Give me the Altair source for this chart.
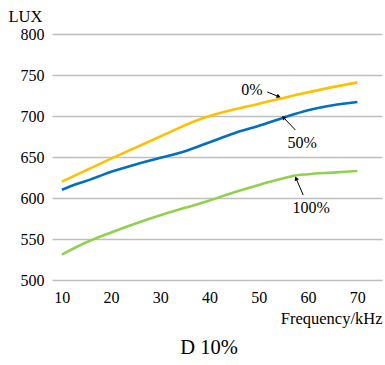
import math
import altair as alt
import pandas as pd

# Illuminance (LUX) versus drive frequency for three dimming levels
freq_0 = [10, 20, 30, 38, 40, 50, 60, 70]
lux_0 = [620, 648, 675, 696, 700, 715, 729, 741]

freq_50 = [10, 13, 16, 20, 25, 30, 35, 40, 45, 50, 55, 60, 65, 70]
lux_50 = [610, 617, 623, 632, 641, 649, 657, 668, 679, 688, 698, 707, 713, 717]

freq_100 = [10, 15, 20, 25, 30, 35, 40, 45, 50, 55, 57, 60, 65, 70]
lux_100 = [531, 546, 558, 569, 579, 588, 597, 607, 616, 624, 627, 629, 631, 633]

series_names = ["0%", "50%", "100%"]
series_colors = ["#FFC000", "#0070C0", "#92D050"]

# Callout labels: label position, arrow tail and arrow tip (kHz, LUX)
label_x = [48.6, 58.8, 60.6]
label_y = [731.5, 667.0, 588.0]
tail_x = [51.7, 57.4, 59.0]
tail_y = [729.3, 683.0, 603.7]
tip_x = [53.9, 55.1, 57.6]
tip_y = [724.0, 697.6, 623.2]

W, H = 330, 246
X_DOM = [8, 75]
Y_DOM = [500, 800]
FONT = "Liberation Serif"

rows = []
for name, xs, ys in zip(series_names, [freq_0, freq_50, freq_100], [lux_0, lux_50, lux_100]):
    for i, (fx, ly) in enumerate(zip(xs, ys)):
        rows.append({"series": name, "freq": fx, "lux": ly, "order": i})
lines_df = pd.DataFrame(rows)

# arrowhead rotation in screen space (clockwise from up)
px_per_x = W / (X_DOM[1] - X_DOM[0])
px_per_y = H / (Y_DOM[1] - Y_DOM[0])
angles = []
for tx, ty, hx, hy in zip(tail_x, tail_y, tip_x, tip_y):
    dx = (hx - tx) * px_per_x
    dy = -(hy - ty) * px_per_y
    angles.append(math.degrees(math.atan2(dx, -dy)) % 360)

ann_df = pd.DataFrame({
    "label": series_names,
    "lx": label_x, "ly": label_y,
    "tx": tail_x, "ty": tail_y,
    "hx": tip_x, "hy": tip_y,
    "angle": angles,
})

x_scale = alt.Scale(domain=X_DOM, nice=False, zero=False)
y_scale = alt.Scale(domain=Y_DOM, nice=False, zero=False)

x_axis = alt.Axis(
    values=[10, 20, 30, 40, 50, 60, 70], grid=False, domain=False, ticks=False,
    labelFont=FONT, labelFontSize=16, labelColor="#000", labelPadding=9,
    title="Frequency/kHz", titleFont=FONT, titleFontSize=16.5, titleFontWeight="normal",
    titleColor="#000", titleAnchor="end", titleAlign="right", titleX=W, titleY=43,
    titleBaseline="alphabetic",
)
y_axis = alt.Axis(
    values=[500, 550, 600, 650, 700, 750, 800], grid=True, gridColor="#BFBFBF",
    gridWidth=1.3, domain=False, ticks=False,
    labelFont=FONT, labelFontSize=16, labelColor="#000", labelPadding=8,
    title="LUX", titleFont=FONT, titleFontSize=16.5, titleFontWeight="normal",
    titleColor="#000", titleAngle=0, titleAlign="left", titleBaseline="middle",
    titleX=-44, titleY=-18,
)

lines = alt.Chart(lines_df).mark_line(strokeWidth=2.6, interpolate="monotone").encode(
    x=alt.X("freq:Q", scale=x_scale, axis=x_axis),
    y=alt.Y("lux:Q", scale=y_scale, axis=y_axis),
    color=alt.Color("series:N", scale=alt.Scale(domain=series_names, range=series_colors), legend=None),
    order="order:Q",
)

arrows = alt.Chart(ann_df).mark_rule(color="#000", strokeWidth=1).encode(
    x="tx:Q", y="ty:Q", x2="hx:Q", y2="hy:Q",
)
heads = alt.Chart(ann_df).mark_point(
    shape="triangle", filled=True, color="#000", size=22, opacity=1
).encode(
    x="hx:Q", y="hy:Q", angle=alt.Angle("angle:Q", scale=None),
)
labels = alt.Chart(ann_df).mark_text(
    font=FONT, fontSize=16, color="#000", align="center", baseline="middle"
).encode(x="lx:Q", y="ly:Q", text="label:N")

caption = alt.Chart(pd.DataFrame({"t": ["D 10%"]})).mark_text(
    font=FONT, fontSize=20.5, color="#000", align="center", baseline="middle"
).encode(x=alt.value(157), y=alt.value(314), text="t:N")

chart = alt.layer(lines, arrows, heads, labels, caption).properties(
    width=W, height=H,
    autosize=alt.AutoSizeParams(type="none"),
    padding={"left": 52, "top": 34, "right": 3, "bottom": 85},
).configure(background="white").configure_view(stroke=None)

chart.save("out.html", embed_options={"renderer": "svg", "actions": False})
